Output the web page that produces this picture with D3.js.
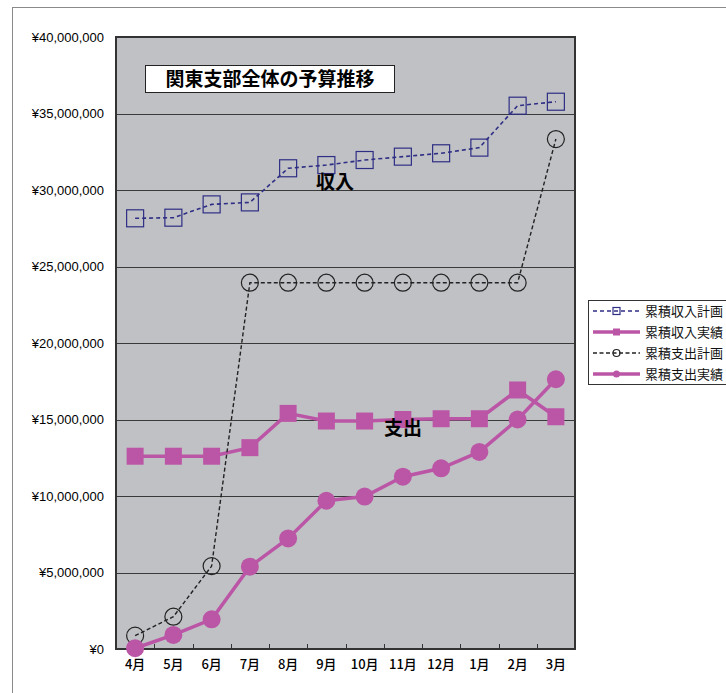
<!DOCTYPE html>
<html>
<head>
<meta charset="utf-8">
<script src="https://cdn.jsdelivr.net/npm/d3@7"></script>
<style>
  body { margin: 0; background: #fff; }
  svg { display: block; }
</style>
</head>
<body>
<script>
// data (yen)
const months = ['4月', '5月', '6月', '7月', '8月', '9月', '10月', '11月', '12月', '1月', '2月', '3月']
const incomePlan = [28150000, 28190000, 29060000, 29190000, 31420000, 31630000, 31960000, 32180000, 32400000, 32770000, 35510000, 35770000]
const incomeActual = [12600000, 12600000, 12600000, 13160000, 15400000, 14900000, 14900000, 15000000, 15050000, 15050000, 16930000, 15180000]
const expensePlan = [870000, 2110000, 5420000, 23940000, 23940000, 23940000, 23940000, 23940000, 23940000, 23940000, 23940000, 33330000]
const expenseActual = [50000, 920000, 1940000, 5380000, 7230000, 9690000, 9960000, 11260000, 11810000, 12880000, 15000000, 17630000]
const yTicks = [0, 5000000, 10000000, 15000000, 20000000, 25000000, 30000000, 35000000, 40000000]
const seriesNames = ['累積収入計画', '累積収入実績', '累積支出計画', '累積支出実績']

const navy = '#2e2e85'
const magenta = '#bb56a6'
const jp = '"Noto Sans CJK JP", "Noto Sans", sans-serif'

const svg = d3.select('body')
    .append('svg')
    .attr('width', 726)
    .attr('height', 693)

// outer chart frame (runs off the right and bottom)
svg.append('rect')
    .attr('x', 12.5).attr('y', 7.5)
    .attr('width', 900).attr('height', 900)
    .attr('fill', '#fff')
    .attr('stroke', '#8a8a8a')

const x = d3.scaleBand()
    .domain(months)
    .range([116, 575])

const y = d3.scaleLinear()
    .domain([0, 40000000])
    .range([649, 37])

const cx = m => x(m) + x.bandwidth() / 2

// plot area
svg.append('rect')
    .attr('x', 116).attr('y', 37)
    .attr('width', 459).attr('height', 612)
    .attr('fill', '#c0c1c5')

// gridlines
svg.append('g')
    .selectAll('line')
    .data(yTicks.slice(1, -1))
    .enter()
    .append('line')
    .attr('x1', 116).attr('x2', 575)
    .attr('y1', d => Math.round(y(d)) + 0.5)
    .attr('y2', d => Math.round(y(d)) + 0.5)
    .attr('stroke', '#3a3a3a')
    .attr('stroke-width', 1)

// y axis labels
const yAxis = d3.axisLeft(y)
    .tickValues(yTicks)
    .tickSize(0)
    .tickPadding(12)
    .tickFormat(d => '¥' + d3.format(',')(d))

const yG = svg.append('g')
    .attr('transform', 'translate(116,0)')
    .call(yAxis)
yG.select('.domain').remove()
yG.selectAll('text')
    .attr('font-family', '"Liberation Sans", Arial, sans-serif')
    .attr('font-size', 13)
    .attr('fill', '#000')

// x axis labels
const xAxis = d3.axisBottom(x)
    .tickSize(0)
    .tickPadding(11)

const xG = svg.append('g')
    .attr('transform', 'translate(0,649)')
    .call(xAxis)
xG.select('.domain').remove()
xG.selectAll('text')
    .attr('font-family', jp)
    .attr('font-size', 13)
    .attr('font-weight', 500)
    .attr('fill', '#000')

// small inner ticks at the band edges
svg.append('g')
    .selectAll('line')
    .data(months.slice(1))
    .enter()
    .append('line')
    .attr('x1', d => Math.round(x(d)) + 0.5)
    .attr('x2', d => Math.round(x(d)) + 0.5)
    .attr('y1', 649).attr('y2', 644)
    .attr('stroke', '#333')

// plot border
svg.append('rect')
    .attr('x', 116).attr('y', 37)
    .attr('width', 459).attr('height', 612)
    .attr('fill', 'none')
    .attr('stroke', '#333')
    .attr('stroke-width', 2)

const line = d3.line()
    .x((d, i) => cx(months[i]))
    .y(d => y(d))

const series = [
    { name: seriesNames[0], values: incomePlan, color: navy, width: 1.6, dash: '4,3', marker: 'square', fill: 'none', size: 17 },
    { name: seriesNames[1], values: incomeActual, color: magenta, width: 3.5, dash: null, marker: 'square', fill: magenta, size: 17 },
    { name: seriesNames[2], values: expensePlan, color: '#222', width: 1.4, dash: '4,2.5', marker: 'circle', fill: 'none', size: 17 },
    { name: seriesNames[3], values: expenseActual, color: magenta, width: 3.5, dash: null, marker: 'circle', fill: magenta, size: 18 }
]

const drawMarker = (g, s, px, py, size) => {
    if (s.marker === 'square') {
        g.append('rect')
            .attr('x', px - size / 2).attr('y', py - size / 2)
            .attr('width', size).attr('height', size)
            .attr('fill', s.fill)
            .attr('stroke', s.color)
            .attr('stroke-width', s.fill === 'none' ? 1.2 : 0)
    } else {
        g.append('circle')
            .attr('cx', px).attr('cy', py)
            .attr('r', size / 2)
            .attr('fill', s.fill)
            .attr('stroke', s.color)
            .attr('stroke-width', s.fill === 'none' ? 1.2 : 0)
    }
}

series.forEach(s => {
    const g = svg.append('g')
    g.append('path')
        .datum(s.values)
        .attr('d', line)
        .attr('fill', 'none')
        .attr('stroke', s.color)
        .attr('stroke-width', s.width)
        .attr('stroke-dasharray', s.dash)
    s.values.forEach((v, i) => drawMarker(g, s, cx(months[i]), y(v), s.size))
})

// title box
svg.append('rect')
    .attr('x', 145.5).attr('y', 65.5)
    .attr('width', 249).attr('height', 27)
    .attr('fill', '#fff')
    .attr('stroke', '#222')
svg.append('text')
    .attr('x', 270).attr('y', 86)
    .attr('text-anchor', 'middle')
    .attr('font-family', jp)
    .attr('font-size', 19)
    .attr('font-weight', 'bold')
    .text('関東支部全体の予算推移')

// inline labels
svg.append('text')
    .attr('x', 335).attr('y', 189)
    .attr('text-anchor', 'middle')
    .attr('font-family', jp)
    .attr('font-size', 19)
    .attr('font-weight', 'bold')
    .text('収入')
svg.append('text')
    .attr('x', 403).attr('y', 435)
    .attr('text-anchor', 'middle')
    .attr('font-family', jp)
    .attr('font-size', 19)
    .attr('font-weight', 'bold')
    .text('支出')

// legend
const legend = svg.append('g')
legend.append('rect')
    .attr('x', 588.5).attr('y', 300.5)
    .attr('width', 200).attr('height', 84)
    .attr('fill', '#fff')
    .attr('stroke', '#333')

series.forEach((s, i) => {
    const ly = 311 + i * 21
    const g = legend.append('g')
    g.append('line')
        .attr('x1', 593).attr('x2', 640)
        .attr('y1', ly).attr('y2', ly)
        .attr('stroke', s.color)
        .attr('stroke-width', s.width)
        .attr('stroke-dasharray', s.dash)
    drawMarker(g, s, 616.5, ly, 7)
    g.append('text')
        .attr('x', 645).attr('y', ly + 4.5)
        .attr('font-family', jp)
        .attr('font-size', 13)
        .attr('fill', '#111')
        .text(s.name)
})
</script>
</body>
</html>
